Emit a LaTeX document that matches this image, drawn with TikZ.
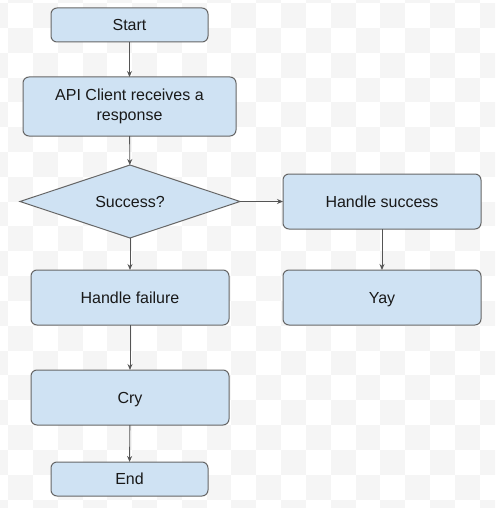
\documentclass[tikz,border=0pt]{standalone}
\usepackage{fontspec}
\setmainfont{Liberation Sans}
\usetikzlibrary{shapes.geometric,arrows.meta}
\definecolor{boxfill}{HTML}{CFE2F3}
\definecolor{boxline}{HTML}{666666}
\definecolor{arrline}{HTML}{555555}
\definecolor{checker}{HTML}{F5F5F5}
\tikzset{
  flowbox/.style={draw=boxline, fill=boxfill, line width=1pt, rounded corners=6pt,
    inner sep=0pt, outer sep=0pt, align=center, font=\fontsize{16}{19.5}\selectfont,
    text=black!90},
  oneline/.style={text height=13.25pt, text depth=1.75pt},
  decbox/.style={draw=boxline, fill=boxfill, line width=1pt, diamond, shape aspect=3,
    inner sep=0pt, outer sep=0pt, font=\fontsize{16}{19.5}\selectfont, text=black!90},
  conn/.style={draw=arrline, line width=0.9pt, -{Stealth[length=6pt,width=5pt]}}
}
\begin{document}
\begin{tikzpicture}[x=1pt,y=-1pt]
\useasboundingbox (0,0) rectangle (495,508);
\begin{scope}
\clip (0,0) rectangle (495,508);
\foreach \i in {-1,...,19}{
  \foreach \j in {-1,...,20}{
    \pgfmathtruncatemacro\s{mod(\i+\j+4,2)}
    \ifnum\s=1
      \fill[checker] ({8.1+\i*24.82},{3.1+\j*24.82}) rectangle ++(24.82,24.82);
    \fi
  }
}
\end{scope}
\node[flowbox, oneline, minimum width=157pt, minimum height=34pt] (start) at (129.5,25) {Start};
\node[flowbox, minimum width=213pt, minimum height=59pt] (api) at (129.5,106.5) {API Client receives a\\response};
\node[decbox, oneline, minimum width=220pt, minimum height=73pt] (dec) at (130,201.5) {Success?};
\node[flowbox, oneline, minimum width=198pt, minimum height=55pt] (succ) at (382,201.5) {Handle success};
\node[flowbox, oneline, minimum width=198pt, minimum height=55pt] (yay) at (382,297.5) {Yay};
\node[flowbox, oneline, minimum width=198pt, minimum height=55pt] (fail) at (130,297.5) {Handle failure};
\node[flowbox, oneline, minimum width=198pt, minimum height=55pt] (cry) at (130,397.5) {Cry};
\node[flowbox, oneline, minimum width=157pt, minimum height=34pt] (end) at (129.5,479) {End};
\draw[conn] (start) -- (api);
\draw[conn] (api) -- (dec);
\draw[conn] (dec.east) -- (succ.west);
\draw[conn] (dec.south) -- (fail.north);
\draw[conn] (succ) -- (yay);
\draw[conn] (fail) -- (cry);
\draw[conn] (cry) -- (end);
\end{tikzpicture}
\end{document}
